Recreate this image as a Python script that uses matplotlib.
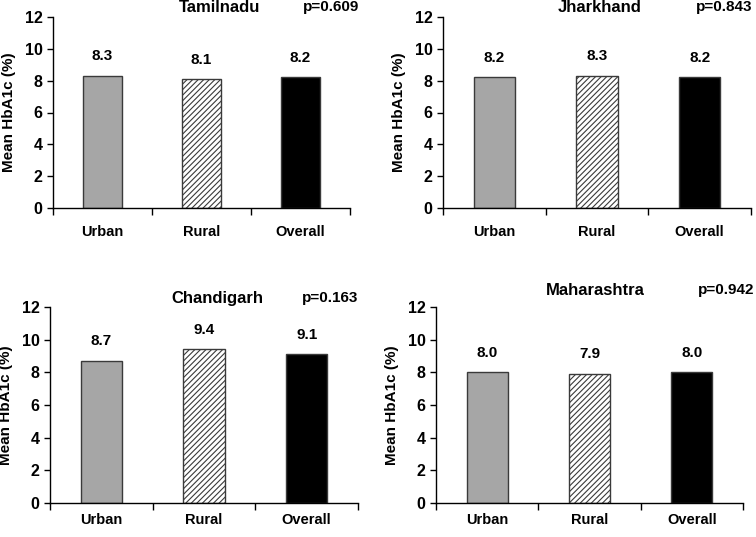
import matplotlib
matplotlib.use("Agg")
import matplotlib.pyplot as plt

plt.rcParams['font.family'] = ['Liberation Sans', 'DejaVu Sans']
plt.rcParams['font.weight'] = 'bold'
plt.rcParams['hatch.linewidth'] = 0.8

categories = ["Urban", "Rural", "Overall"]
states = ["Tamilnadu", "Jharkhand", "Chandigarh", "Maharashtra"]
p_values = ["p=0.609", "p=0.843", "p=0.163", "p=0.942"]
tamilnadu = [8.3, 8.1, 8.2]
jharkhand = [8.2, 8.3, 8.2]
chandigarh = [8.7, 9.4, 9.1]
maharashtra = [8.0, 7.9, 8.0]
values = [tamilnadu, jharkhand, chandigarh, maharashtra]

W, H = 756, 537
# axes boxes in pixels: left, bottom(from top), width, height
boxes = [(53, 208, 297, 191), (443, 208, 308, 191),
         (50, 503, 308, 196), (436, 503, 307, 196)]
title_x = [0.56, 0.51, 0.545, 0.52]
title_y = [1.05, 1.05, 1.045, 1.085]
p_x = [1.03, 1.006, 1.0, 1.036]
label_pad = [12, 12, 7, 7]

fig = plt.figure(figsize=(W / 100, H / 100), dpi=100)

for i in range(4):
    l, b, w, h = boxes[i]
    ax = fig.add_axes([l / W, (H - b) / H, w / W, h / H])
    bars = ax.bar(range(3), values[i], width=0.4,
                  color=["#a6a6a6", "white", "black"],
                  edgecolor="#3a3a3a", linewidth=1.0)
    bars[1].set_hatch("//////")
    for j, v in enumerate(values[i]):
        ax.annotate(f"{v:.1f}", (j, v), xytext=(0, 9), textcoords="offset points",
                    ha="center", va="bottom", fontsize=11, fontweight="bold")
    ax.set_xlim(-0.5, 2.5)
    ax.set_ylim(0, 12)
    ax.set_yticks(range(0, 13, 2))
    ax.set_xticks(range(3))
    ax.set_xticklabels(categories)
    ax.set_xticks([-0.5, 0.5, 1.5, 2.5], minor=True)
    ax.tick_params(axis="x", which="major", length=0, pad=label_pad[i], labelsize=10.5)
    ax.tick_params(axis="x", which="minor", length=5, direction="out", width=1)
    ax.tick_params(axis="y", length=4, direction="out", width=1, labelsize=11.5)
    for s in ["top", "right"]:
        ax.spines[s].set_visible(False)
    ax.spines["left"].set_linewidth(1)
    ax.spines["bottom"].set_linewidth(1)
    ax.set_ylabel("Mean HbA1c (%)", fontsize=11, fontweight="bold", labelpad=6)
    ax.text(title_x[i], title_y[i], states[i], transform=ax.transAxes,
            ha="center", va="center", fontsize=12, fontweight="bold")
    ax.text(p_x[i], title_y[i], p_values[i], transform=ax.transAxes,
            ha="right", va="center", fontsize=11, fontweight="bold")

fig.savefig("out.png", dpi=100)
